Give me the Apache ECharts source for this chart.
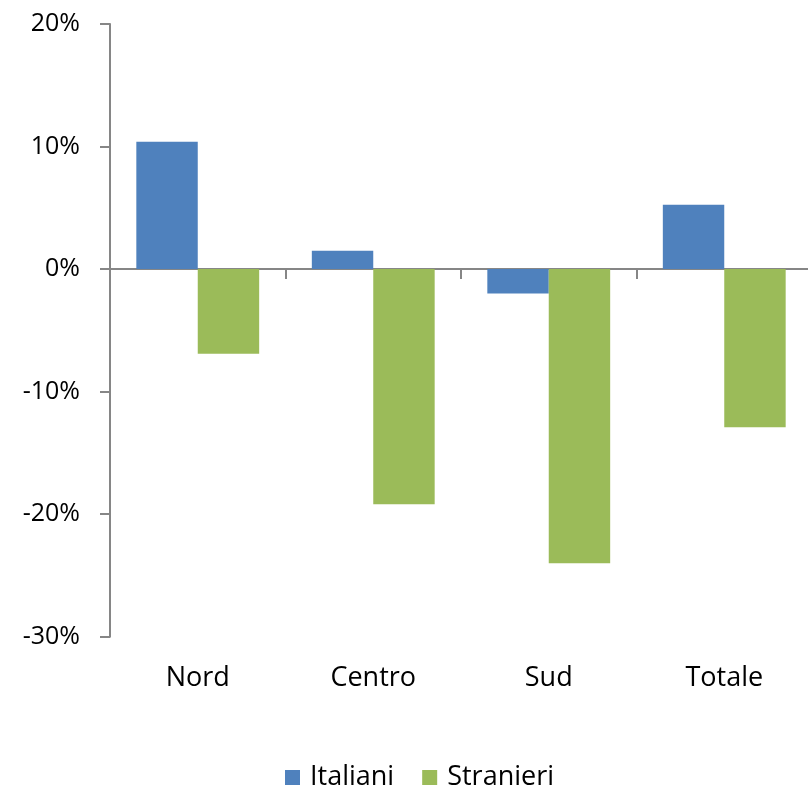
<!DOCTYPE html>
<html>
<head>
<meta charset="utf-8">
<script src="https://cdn.jsdelivr.net/npm/echarts@6/dist/echarts.min.js"></script>
<style>html,body{margin:0;padding:0;background:#fff;overflow:hidden}#c{width:813px;height:788px}</style>
</head>
<body>
<div id="c"></div>
<script>
const categories = ['Nord', 'Centro', 'Sud', 'Totale'];
const italiani = [10.4, 1.5, -2.0, 5.25];
const stranieri = [-6.9, -19.2, -24.0, -12.9];
const yTicks = { min: -30, max: 20, interval: 10 };

const FONT = 'Open Sans';
const axisGray = '#868686';
const chart = echarts.init(document.getElementById('c'));
chart.setOption({
  animation: false,
  textStyle: { fontFamily: FONT },
  grid: { left: 110, top: 24, right: 1, bottom: 151.3, containLabel: false },
  legend: {
    left: 280, top: 759,
    itemWidth: 15, itemHeight: 15, itemGap: 28,
    icon: 'rect',
    textStyle: { fontFamily: FONT, fontSize: 27, color: '#000', padding: [0, 0, 0, 5] },
    data: ['Italiani', 'Stranieri']
  },
  xAxis: [
    {
      type: 'category', data: categories, position: 'bottom',
      axisLine: { onZero: true, lineStyle: { color: axisGray, width: 2 } },
      axisTick: { show: true, length: 10, lineStyle: { color: axisGray, width: 2 } },
      axisLabel: { show: false }, splitLine: { show: false }
    },
    {
      type: 'category', data: categories, position: 'bottom',
      axisLine: { show: false, onZero: false }, axisTick: { show: false },
      axisLabel: { show: true, margin: 28, fontSize: 27, color: '#000', fontFamily: FONT },
      splitLine: { show: false }
    }
  ],
  yAxis: {
    type: 'value', min: yTicks.min, max: yTicks.max, interval: yTicks.interval,
    axisLine: { show: true, lineStyle: { color: axisGray, width: 2 } },
    axisTick: { show: true, length: 10, lineStyle: { color: axisGray, width: 2 } },
    splitLine: { show: false },
    axisLabel: { margin: 30, fontSize: 25, color: '#000', fontFamily: FONT, formatter: v => v + '%' }
  },
  series: [
    { name: 'Italiani', type: 'bar', data: italiani, xAxisIndex: 0, barWidth: '35%', barGap: '0%',
      itemStyle: { color: '#4F81BD' } },
    { name: 'Stranieri', type: 'bar', data: stranieri, xAxisIndex: 0, barWidth: '35%', barGap: '0%',
      itemStyle: { color: '#9BBB59' } }
  ]
});
</script>
</body>
</html>
